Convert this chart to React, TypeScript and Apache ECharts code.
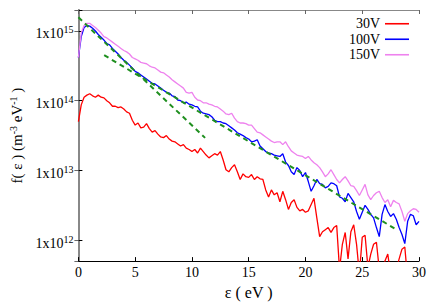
import React, { useEffect, useRef } from "react";
import * as echarts from "echarts";

// Electron energy (eV)
const energy = [
  0, 0.25, 0.5, 0.75, 1, 1.25, 1.5, 1.75,
  2, 2.25, 2.5, 2.75, 3, 3.25, 3.5, 3.75,
  4, 4.25, 4.5, 4.75, 5, 5.25, 5.5, 5.75,
  6, 6.25, 6.5, 6.75, 7, 7.25, 7.5, 7.75,
  8, 8.25, 8.5, 8.75, 9, 9.25, 9.5, 9.75,
  10, 10.25, 10.5, 10.75, 11, 11.25, 11.5, 11.75,
  12, 12.25, 12.5, 12.75, 13, 13.25, 13.5, 13.75,
  14, 14.25, 14.5, 14.75, 15, 15.25, 15.5, 15.75,
  16, 16.25, 16.5, 16.75, 17, 17.25, 17.5, 17.75,
  18, 18.25, 18.5, 18.75, 19, 19.25, 19.5, 19.75,
  20, 20.25, 20.5, 20.75, 21, 21.25, 21.5, 21.75,
  22, 22.25, 22.5, 22.75, 23, 23.25, 23.5, 23.75,
  24, 24.25, 24.5, 24.75, 25, 25.25, 25.5, 25.75,
  26, 26.25, 26.5, 26.75, 27, 27.25, 27.5, 27.75,
  28, 28.25, 28.5, 28.75, 29, 29.25, 29.5, 29.75,
  30,
];

// log10 of f(eps) in m^-3 eV^-1
const log10F30V = [
  13.70, 13.94, 14.05, 14.08, 14.10, 14.07, 14.05, 14.08,
  14.05, 14.04, 14.00, 13.97, 13.92, 13.92, 13.90, 13.91,
  13.88, 13.84, 13.82, 13.72, 13.65, 13.68, 13.61, 13.62,
  13.67, 13.60, 13.55, 13.57, 13.52, 13.48, 13.47, 13.50,
  13.45, 13.42, 13.41, 13.38, 13.35, 13.37, 13.32, 13.30,
  13.27, 13.30, 13.25, 13.32, 13.27, 13.22, 13.18, 13.21,
  13.24, 13.22, 13.27, 13.15, 13.01, 12.98, 13.04, 13.08,
  12.98, 12.87, 12.95, 12.91, 12.90, 12.94, 12.87, 12.91,
  12.88, 12.87, 12.72, 12.62, 12.72, 12.65, 12.68, 12.55,
  12.70, 12.58, 12.44, 12.54, 12.58, 12.47, 12.42, 12.44,
  12.40, 12.42, 12.51, 12.60, 12.32, 12.05, 12.12, 12.15,
  12.18, 12.11, 12.18, 12.21, 11.58, 11.94, 12.11, 11.73,
  12.12, 12.22, 11.94, 11.51, 12.04, 12.07, 11.61, 11.80,
  11.94, 11.97, 11.58, 11.44, 11.70, 11.80, 11.51, 11.37,
  11.58, 11.73, 11.87, 11.90, 11.44, 11.30, 11.51, 11.37,
  11.44,
];

const log10F100V = [
  14.62, 14.92, 15.05, 15.08, 15.07, 15.04, 15.00, 14.95,
  14.91, 14.87, 14.82, 14.80, 14.75, 14.71, 14.67, 14.62,
  14.58, 14.55, 14.51, 14.47, 14.42, 14.40, 14.37, 14.34,
  14.31, 14.28, 14.25, 14.24, 14.21, 14.18, 14.15, 14.12,
  14.11, 14.07, 14.06, 14.01, 14.00, 13.97, 13.98, 13.95,
  13.94, 13.92, 13.91, 13.85, 13.82, 13.81, 13.80, 13.77,
  13.72, 13.70, 13.70, 13.68, 13.67, 13.64, 13.61, 13.58,
  13.54, 13.52, 13.50, 13.47, 13.45, 13.41, 13.42, 13.44,
  13.35, 13.31, 13.27, 13.25, 13.24, 13.22, 13.21, 13.20,
  13.24, 13.12, 13.07, 12.98, 12.94, 13.04, 13.00, 12.91,
  12.97, 12.84, 12.70, 12.78, 12.87, 12.81, 12.80, 12.75,
  12.77, 12.82, 12.81, 12.78, 12.62, 12.60, 12.55, 12.67,
  12.61, 12.55, 12.41, 12.30, 12.40, 12.50, 12.44, 12.37,
  12.32, 12.18, 12.05, 12.37, 12.51, 12.41, 12.34, 12.38,
  12.30, 12.18, 12.08, 11.95, 12.27, 12.37, 12.35, 12.22,
  12.27,
];

const log10F150V = [
  14.62, 14.97, 15.08, 15.11, 15.11, 15.08, 15.05, 15.01,
  14.97, 14.92, 14.90, 14.87, 14.84, 14.81, 14.78, 14.75,
  14.72, 14.70, 14.67, 14.62, 14.60, 14.58, 14.55, 14.54,
  14.53, 14.50, 14.48, 14.47, 14.44, 14.41, 14.40, 14.37,
  14.34, 14.30, 14.27, 14.24, 14.21, 14.18, 14.12, 14.11,
  14.12, 14.05, 14.01, 14.00, 13.97, 13.97, 13.95, 13.94,
  13.92, 13.91, 13.88, 13.85, 13.81, 13.80, 13.82, 13.75,
  13.70, 13.68, 13.68, 13.67, 13.65, 13.65, 13.60, 13.55,
  13.54, 13.51, 13.48, 13.45, 13.42, 13.40, 13.41, 13.41,
  13.37, 13.41, 13.34, 13.28, 13.25, 13.22, 13.21, 13.20,
  13.17, 13.20, 13.15, 13.11, 13.08, 13.04, 12.98, 12.91,
  12.95, 13.01, 12.94, 12.87, 12.82, 12.87, 12.91, 12.85,
  12.78, 12.77, 12.71, 12.64, 12.72, 12.80, 12.65, 12.58,
  12.64, 12.68, 12.70, 12.61, 12.54, 12.58, 12.48, 12.57,
  12.54, 12.52, 12.41, 12.27, 12.38, 12.42, 12.45, 12.44,
  12.40,
];

// Dashed exponential fits (end points)
const fitSteepE = [0, 11.16];
const fitSteepF = [1.57e15, 2.93e13];
const fitShallowE = [2.27, 28.0];
const fitShallowF = [4.5e14, 1.42e12];

const seriesNames = ["30V", "100V", "150V"];
const seriesColors = ["#ff0000", "#0000ff", "#ee82ee"];

const FONT = "'Liberation Serif', 'DejaVu Serif', serif";

export default function App() {
  const ref = useRef<HTMLDivElement>(null);

  useEffect(() => {
    const chart = echarts.init(ref.current!, null, { renderer: "svg" });
    const toPairs = (logs: number[]) =>
      energy.map((x, i) => [x, Math.pow(10, logs[i])]);
    const fitPairs = (xs: number[], ys: number[]) => xs.map((x, i) => [x, ys[i]]);

    const yFmt = (v: number) => {
      const e = Math.log10(v);
      const r = Math.round(e);
      if (Math.abs(e - r) > 1e-6) return "";
      return `{a|1x10}{s|${r}}`;
    };

    const rich = {
      a: { fontFamily: FONT, fontSize: 14, color: "#000", lineHeight: 18 },
      s: { fontFamily: FONT, fontSize: 10, color: "#000", lineHeight: 8, verticalAlign: "top" as const },
    };

    const allLogs = [log10F30V, log10F100V, log10F150V];

    chart.setOption({
      animation: false,
      backgroundColor: "#fff",
      grid: { left: 75, right: 17, top: 10, bottom: 43 },
      legend: {
        data: seriesNames.map((name) => ({ name, icon: "rect" })),
        orient: "vertical",
        align: "right",
        right: 27,
        top: 16,
        padding: 0,
        itemWidth: 24,
        itemHeight: 1.6,
        itemGap: 0,
        textStyle: { fontFamily: FONT, fontSize: 14, color: "#000", lineHeight: 15.5 },
      },
      xAxis: [
        {
          type: "value",
          min: 0,
          max: 30,
          interval: 5,
          position: "bottom",
          axisLine: { show: true, lineStyle: { color: "#000", width: 1 } },
          axisTick: { show: true, inside: true, length: 4, lineStyle: { color: "#000" } },
          axisLabel: { fontFamily: FONT, fontSize: 14, color: "#000", margin: 4 },
          splitLine: { show: false },
          name: "ε ( eV )",
          nameLocation: "middle",
          nameGap: 20,
          nameTextStyle: { fontFamily: FONT, fontSize: 16, color: "#000" },
        },
        {
          type: "value",
          min: 0,
          max: 30,
          interval: 5,
          position: "top",
          axisLine: { show: true, lineStyle: { color: "#888", width: 1 } },
          axisTick: { show: true, inside: true, length: 4, lineStyle: { color: "#666" } },
          axisLabel: { show: false },
          splitLine: { show: false },
        },
      ],
      yAxis: [
        {
          type: "log",
          logBase: 10,
          min: 5e11,
          max: 2e15,
          position: "left",
          axisLine: { show: true, lineStyle: { color: "#000", width: 1 } },
          axisTick: { show: true, inside: true, length: 4, lineStyle: { color: "#000" } },
          axisLabel: { formatter: yFmt, rich, margin: 5, padding: [6, 0, 0, 0] },
          splitLine: { show: false },
          minorTick: { show: false },
          name: "{a|f( ε ) (m}{s|-3}{a| eV}{s|-1}{a| )}",
          nameLocation: "middle",
          nameGap: 49,
          nameRotate: 90,
          nameTextStyle: {
            rich: {
              a: { fontFamily: FONT, fontSize: 15, color: "#000", lineHeight: 18 },
              s: { fontFamily: FONT, fontSize: 10, color: "#000", lineHeight: 8, verticalAlign: "top" },
            },
          },
        },
        {
          type: "log",
          logBase: 10,
          min: 5e11,
          max: 2e15,
          position: "right",
          axisLine: { show: true, lineStyle: { color: "#888", width: 2 } },
          axisTick: { show: true, inside: true, length: 4, lineStyle: { color: "#666" } },
          axisLabel: { show: false },
          splitLine: { show: false },
        },
      ],
      series: [
        ...seriesNames.map((name, k) => ({
          type: "line",
          name,
          xAxisIndex: 0,
          yAxisIndex: 0,
          data: toPairs(allLogs[k]),
          symbol: "none",
          clip: true,
          lineStyle: { color: seriesColors[k], width: 1.3 },
          itemStyle: { color: seriesColors[k] },
        })),
        {
          type: "line",
          name: "fit1",
          xAxisIndex: 0,
          yAxisIndex: 0,
          data: fitPairs(fitSteepE, fitSteepF),
          symbol: "none",
          clip: true,
          lineStyle: { color: "#1f8f1f", width: 2, type: [5, 4] },
          itemStyle: { color: "#1f8f1f" },
          z: 5,
        },
        {
          type: "line",
          name: "fit2",
          xAxisIndex: 0,
          yAxisIndex: 0,
          data: fitPairs(fitShallowE, fitShallowF),
          symbol: "none",
          clip: true,
          lineStyle: { color: "#1f8f1f", width: 2, type: [5, 4] },
          itemStyle: { color: "#1f8f1f" },
          z: 5,
        },
      ],
    });

    return () => chart.dispose();
  }, []);

  return (
    <div
      ref={ref}
      style={{ position: "fixed", left: 0, top: 0, width: 436, height: 305 }}
    />
  );
}
